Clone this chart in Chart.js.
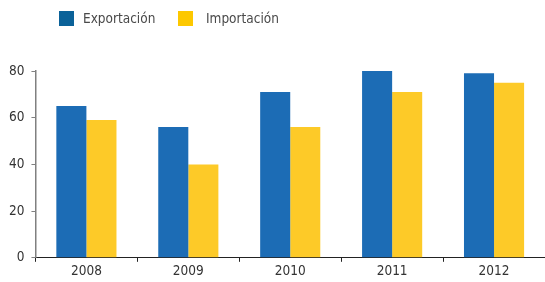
<!DOCTYPE html>
<html><head><meta charset="utf-8">
<script src="https://cdn.jsdelivr.net/npm/chart.js@4/dist/chart.umd.min.js"></script>
<style>html,body{margin:0;padding:0;background:#fff}#wrap{width:545px;height:282px;position:relative}</style>
</head><body><div id="wrap"><canvas id="c"></canvas></div>
<script>
const categories = ['2008', '2009', '2010', '2011', '2012'];
const exportacion = [65, 56, 71, 80, 79];
const importacion = [59, 40, 56, 71, 75];
const yTicks = [0, 20, 40, 60, 80];

const FONT = "'Liberation Sans Narrow', 'DejaVu Sans Condensed', sans-serif";
const legendPlugin = {
  id: 'customLegend',
  afterDraw(chart) {
    const ctx = chart.ctx;
    const items = [
      {x: 59, tx: 83, color: '#0B6299', label: chart.data.datasets[0].label},
      {x: 178, tx: 206, color: '#FDC800', label: chart.data.datasets[1].label}
    ];
    ctx.save();
    ctx.font = '13.5px ' + FONT;
    ctx.textBaseline = 'middle';
    items.forEach(it => {
      ctx.fillStyle = it.color;
      ctx.fillRect(it.x, 11, 15, 15);
      ctx.fillStyle = '#4a4a4a';
      ctx.fillText(it.label, it.tx, 19);
    });
    ctx.restore();
  }
};

new Chart(document.getElementById('c'), {
  type: 'bar',
  data: {
    labels: categories,
    datasets: [
      {label: 'Exportación', data: exportacion, backgroundColor: '#1C6CB5', categoryPercentage: 0.59, barPercentage: 1},
      {label: 'Importación', data: importacion, backgroundColor: '#FDCA28', categoryPercentage: 0.59, barPercentage: 1}
    ]
  },
  options: {
    responsive: true,
    maintainAspectRatio: false,
    animation: false,
    layout: {padding: {top: 71, left: 2, right: 0, bottom: 0}},
    plugins: {legend: {display: false}, tooltip: {enabled: false}},
    scales: {
      x: {
        grid: {offset: true, drawOnChartArea: false, tickLength: 4, color: '#222', lineWidth: 1},
        border: {color: '#222', width: 1},
        ticks: {color: '#333', font: {family: FONT, size: 13.5}, padding: 2}
      },
      y: {
        min: 0, max: 80,
        afterBuildTicks: (s) => { s.ticks = yTicks.map(v => ({value: v})); },
        grid: {drawOnChartArea: false, tickLength: 4, color: '#808080'},
        border: {color: '#808080', width: 1.5},
        ticks: {color: '#333', font: {family: FONT, size: 13.5}, padding: 7}
      }
    }
  },
  plugins: [legendPlugin]
});
</script></body></html>
